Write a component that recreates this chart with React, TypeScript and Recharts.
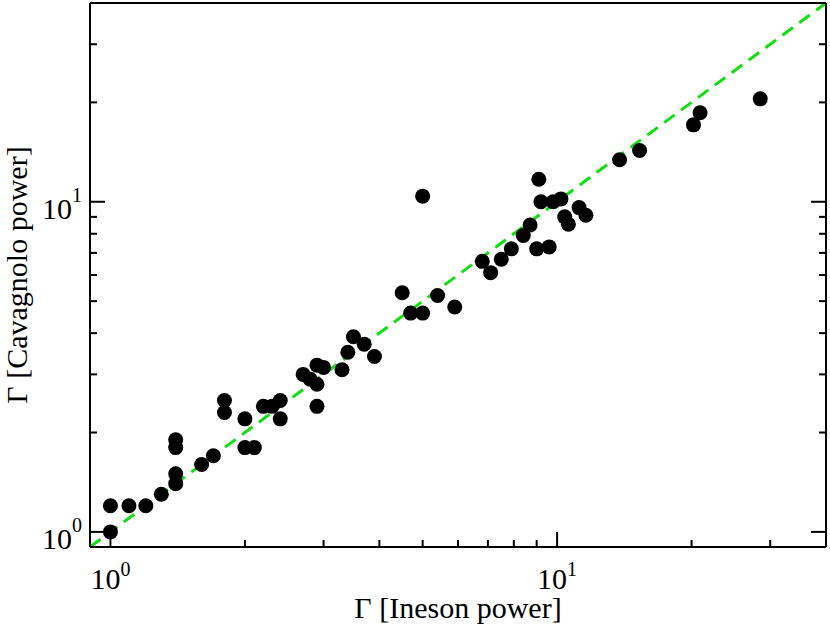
import React from "react";
import { ScatterChart, Scatter, XAxis, YAxis, ReferenceLine, Label } from "recharts";

// Gamma values (x: Ineson, y: Cavagnolo)
const inesonPower = [
  1.0, 1.0, 1.1, 1.2, 1.3, 1.4, 1.4, 1.4, 1.4, 1.6,
  1.7, 1.8, 1.8, 2.0, 2.0, 2.1, 2.2, 2.3, 2.4, 2.4,
  2.7, 2.8, 2.9, 3.0, 2.9, 2.9, 3.3, 3.4, 3.5, 3.7,
  3.9, 4.5, 4.7, 5.0, 5.0, 5.4, 5.9, 6.8, 7.1, 7.5,
  7.9, 8.4, 8.7, 9.0, 9.6, 9.1, 9.2, 9.8, 10.2, 10.4,
  10.6, 11.2, 11.6, 13.8, 15.3, 20.2, 20.9, 28.5,
];
const cavagnoloPower = [
  1.0, 1.2, 1.2, 1.2, 1.3, 1.4, 1.5, 1.8, 1.9, 1.6,
  1.7, 2.3, 2.5, 2.2, 1.8, 1.8, 2.4, 2.4, 2.5, 2.2,
  3.0, 2.9, 3.2, 3.15, 2.8, 2.4, 3.1, 3.5, 3.9, 3.7,
  3.4, 5.3, 4.6, 4.6, 10.4, 5.2, 4.8, 6.6, 6.1, 6.7,
  7.2, 7.9, 8.5, 7.2, 7.3, 11.7, 10.0, 10.0, 10.2, 9.0,
  8.55, 9.6, 9.1, 13.4, 14.3, 17.1, 18.6, 20.5,
];

const axisTicks = [1, 2, 3, 4, 5, 6, 7, 8, 9, 10, 20, 30, 40];
const majorTicks = [1, 10];
const domainMin = 0.9;
const domainMax = 40;

const points = inesonPower.map((x, i) => ({ x, y: cavagnoloPower[i] }));

const FONT = "Liberation Serif";

type Side = "bottom" | "top" | "left" | "right";

function AxisTick(props: any & { side: Side }) {
  const { x, y, payload, side } = props;
  const v = payload.value;
  const major = majorTicks.includes(v);
  const len = major ? 15 : 7;
  let x2 = x;
  let y2 = y;
  if (side === "bottom") y2 = y - len;
  if (side === "top") y2 = y + len;
  if (side === "left") x2 = x + len;
  if (side === "right") x2 = x - len;
  const exp = Math.round(Math.log10(v));
  return (
    <g>
      <line x1={x} y1={y} x2={x2} y2={y2} stroke="#000" strokeWidth={2} />
      {major && side === "bottom" && (
        <text x={x} y={y + 42} textAnchor="middle" fontFamily={FONT} fontSize={30} fill="#000">
          10
          <tspan dy={-13} fontSize={20}>
            {exp}
          </tspan>
        </text>
      )}
      {major && side === "left" && (
        <text x={x - 8} y={y + 17} textAnchor="end" fontFamily={FONT} fontSize={30} fill="#000">
          10
          <tspan dy={-17} fontSize={20}>
            {exp}
          </tspan>
        </text>
      )}
    </g>
  );
}

function Dot(props: any) {
  return <circle cx={props.cx} cy={props.cy} r={7.5} fill="#000" />;
}

const axisLine = { stroke: "#000", strokeWidth: 2 };

export default function App() {
  return (
    <div style={{ position: "absolute", left: 0, top: 0, background: "#fff" }}>
      <ScatterChart width={830} height={629} margin={{ top: 2, right: 3, bottom: 0, left: 0 }}>
        <XAxis
          xAxisId="bottom"
          dataKey="x"
          type="number"
          scale="log"
          domain={[domainMin, domainMax]}
          allowDataOverflow
          ticks={axisTicks}
          interval={0}
          height={82}
          tickSize={0}
          tickMargin={0}
          tickLine={false}
          axisLine={axisLine}
          tick={(p: any) => <AxisTick {...p} side="bottom" />}
        >
          <Label
            content={(p: any) => (
              <text
                x={p.viewBox.x + p.viewBox.width / 2}
                y={p.viewBox.y + 71}
                textAnchor="middle"
                fontFamily={FONT}
                fontSize={30}
                fill="#000"
              >
                Γ [Ineson power]
              </text>
            )}
          />
        </XAxis>
        <XAxis
          xAxisId="top"
          orientation="top"
          type="number"
          scale="log"
          domain={[domainMin, domainMax]}
          allowDataOverflow
          ticks={axisTicks}
          interval={0}
          height={1}
          tickSize={0}
          tickMargin={0}
          tickLine={false}
          axisLine={axisLine}
          tick={(p: any) => <AxisTick {...p} side="top" />}
        />
        <YAxis
          yAxisId="left"
          dataKey="y"
          type="number"
          scale="log"
          domain={[domainMin, domainMax]}
          allowDataOverflow
          ticks={axisTicks}
          interval={0}
          width={90}
          tickSize={0}
          tickMargin={0}
          tickLine={false}
          axisLine={axisLine}
          tick={(p: any) => <AxisTick {...p} side="left" />}
        >
          <Label
            content={(p: any) => {
              const cx = 27;
              const cy = p.viewBox.y + p.viewBox.height / 2;
              return (
                <text
                  x={cx}
                  y={cy}
                  transform={`rotate(-90, ${cx}, ${cy})`}
                  textAnchor="middle"
                  fontFamily={FONT}
                  fontSize={30}
                  fill="#000"
                >
                  Γ [Cavagnolo power]
                </text>
              );
            }}
          />
        </YAxis>
        <YAxis
          yAxisId="right"
          orientation="right"
          type="number"
          scale="log"
          domain={[domainMin, domainMax]}
          allowDataOverflow
          ticks={axisTicks}
          interval={0}
          width={1}
          tickSize={0}
          tickMargin={0}
          tickLine={false}
          axisLine={axisLine}
          tick={(p: any) => <AxisTick {...p} side="right" />}
        />
        <Scatter
          data={points}
          xAxisId="bottom"
          yAxisId="left"
          fill="#000"
          shape={Dot}
          isAnimationActive={false}
        />
        <ReferenceLine
          xAxisId="bottom"
          yAxisId="left"
          segment={[
            { x: domainMin, y: domainMin },
            { x: domainMax, y: domainMax },
          ]}
          stroke="#10e010"
          strokeWidth={3}
          strokeDasharray="13 8"
          ifOverflow="visible"
        />
      </ScatterChart>
    </div>
  );
}
